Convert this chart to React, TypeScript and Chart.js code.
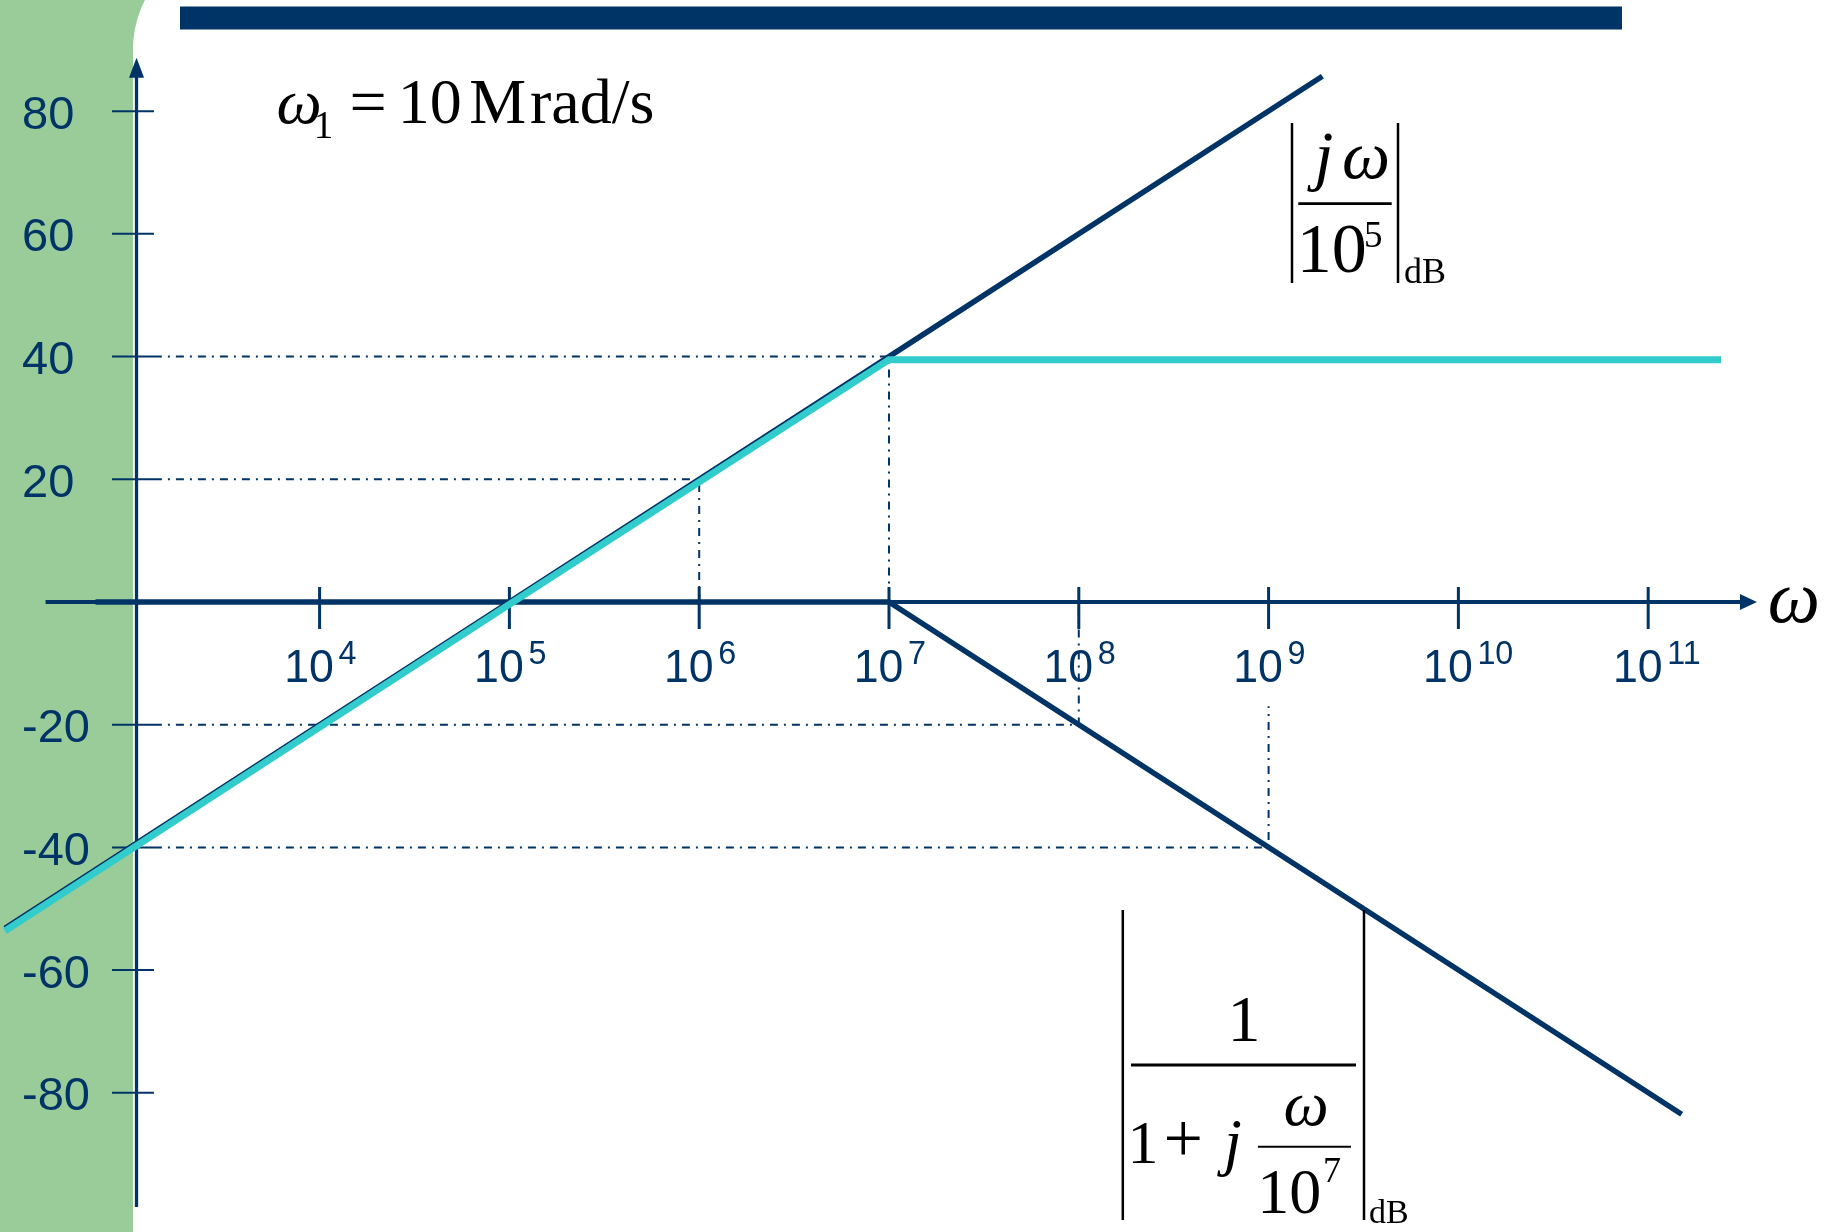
import React, { useEffect, useRef } from "react";
import { Chart, registerables } from "chart.js";

Chart.register(...registerables);

const NAVY = "#003366";
const CYAN = "#33CCCC";
const GREEN = "#99CC99";
const SANS = "'Liberation Sans', Arial, sans-serif";
const SERIF = "'Liberation Serif', 'Times New Roman', serif";

// Asymptote of |jω/10^5| in dB (ω in rad/s)
const zeroOmega = [2.2e2, 1.0e5, 1.0e7, 1.92e9];
const zeroDb = [-53.2, 0, 40, 85.7];

// Asymptote of |1/(1+jω/10^7)| in dB
const poleOmega = [6.6e2, 1.0e7, 1.5e11];
const poleDb = [0, 0, -83.5];

// Sum of both asymptotes (cyan)
const totalOmega = [2.2e2, 1.0e5, 1.0e7, 2.42e11];
const totalDb = [-53.6, -0.4, 39.5, 39.5];

// Dash-dot reading guides
const guide40Omega = [1.34e3, 1.0e7, 1.0e7];
const guide40Db = [40, 40, 0];
const guide20Omega = [1.34e3, 1.0e6, 1.0e6];
const guide20Db = [20, 20, 0];
const guideM20Omega = [1.34e3, 1.0e8, 1.0e8];
const guideM20Db = [-20, -20, 0];
const guideM40Omega = [1.34e3, 1.0e9, 1.0e9];
const guideM40Db = [-40, -40, -17];

// Axis ticks
const yTickValues = [80, 60, 40, 20, -20, -40, -60, -80];
const yTickLabels = ["80", "60", "40", "20", "-20", "-40", "-60", "-80"];
const xTickValues = [1e4, 1e5, 1e6, 1e7, 1e8, 1e9, 1e10, 1e11];
const xTickExponents = ["4", "5", "6", "7", "8", "9", "10", "11"];

// Axis extents (in data units)
const X_MIN = 207.1;
const X_MAX = 8.646e11;
const Y_MIN = -102.69;
const Y_MAX = 98.12;
const X_AXIS_FROM = 3.6e2;
const X_AXIS_TIP = 3.74e11;
const Y_AXIS_AT = 1.085e3;
const Y_AXIS_FROM = -98.6;
const Y_AXIS_TIP = 88.7;

const pts = (xs: number[], ys: number[]) => xs.map((x, i) => ({ x, y: ys[i] }));

function txt(
  ctx: CanvasRenderingContext2D,
  s: string,
  x: number,
  y: number,
  font: string,
  align: CanvasTextAlign = "left",
  sy = 1,
  color = "#000",
  sx = 1
) {
  ctx.save();
  ctx.font = font;
  ctx.fillStyle = color;
  ctx.textAlign = align;
  ctx.textBaseline = "alphabetic";
  ctx.translate(x, y);
  ctx.scale(sx, sy);
  ctx.fillText(s, 0, 0);
  ctx.restore();
}

function seg(ctx: CanvasRenderingContext2D, x1: number, y1: number, x2: number, y2: number, w: number, color = "#000") {
  ctx.save();
  ctx.strokeStyle = color;
  ctx.lineWidth = w;
  ctx.lineCap = "butt";
  ctx.beginPath();
  ctx.moveTo(x1, y1);
  ctx.lineTo(x2, y2);
  ctx.stroke();
  ctx.restore();
}

const backgroundPlugin = {
  id: "slideBackground",
  beforeDraw(chart: any) {
    const { ctx, width, height } = chart;
    ctx.save();
    ctx.fillStyle = "#ffffff";
    ctx.fillRect(0, 0, width, height);
    ctx.fillStyle = GREEN;
    ctx.fillRect(0, 0, 240, height);
    ctx.fillStyle = "#ffffff";
    ctx.beginPath();
    (ctx as any).roundRect(133, -57, width, height + 200, 106);
    ctx.fill();
    ctx.fillStyle = NAVY;
    ctx.fillRect(180, 6.5, 1442, 23);
    ctx.restore();
  },
};

const axesPlugin = {
  id: "bodeAxes",
  beforeDatasetsDraw(chart: any) {
    const ctx: CanvasRenderingContext2D = chart.ctx;
    const xs = chart.scales.x;
    const ys = chart.scales.y;
    const y0 = ys.getPixelForValue(0);
    const xa = xs.getPixelForValue(X_AXIS_FROM);
    const xt = xs.getPixelForValue(X_AXIS_TIP);
    const xp = xs.getPixelForValue(Y_AXIS_AT);
    const yb = ys.getPixelForValue(Y_AXIS_FROM);
    const yt = ys.getPixelForValue(Y_AXIS_TIP);

    // x axis
    seg(ctx, xa, y0, xt - 15, y0, 4, NAVY);
    ctx.save();
    ctx.fillStyle = NAVY;
    ctx.beginPath();
    ctx.moveTo(xt, y0);
    ctx.lineTo(xt - 17, y0 - 8);
    ctx.lineTo(xt - 17, y0 + 8);
    ctx.closePath();
    ctx.fill();
    ctx.restore();

    // y axis
    seg(ctx, xp, yb, xp, yt + 18, 3.3, NAVY);
    ctx.save();
    ctx.fillStyle = NAVY;
    ctx.beginPath();
    ctx.moveTo(xp, yt);
    ctx.lineTo(xp - 7.5, yt + 20);
    ctx.lineTo(xp + 7.5, yt + 20);
    ctx.closePath();
    ctx.fill();
    ctx.restore();

    // y ticks and labels
    yTickValues.forEach((v, i) => {
      const py = ys.getPixelForValue(v);
      seg(ctx, xp - 24.5, py, xp + 17.5, py, 2, NAVY);
      txt(ctx, yTickLabels[i], 22, py + 17.5, `47px ${SANS}`, "left", 1, NAVY);
    });

    // x ticks and labels
    xTickValues.forEach((v, i) => {
      const px = xs.getPixelForValue(v);
      seg(ctx, px, y0 - 15, px, y0 + 27, 3, NAVY);
      txt(ctx, "10", px - 35.3, y0 + 80.5, `47px ${SANS}`, "left", 1, NAVY, 0.95);
      txt(ctx, xTickExponents[i], px + 19, y0 + 62, `34px ${SANS}`, "left", 1, NAVY, 0.95);
    });
  },
};

const annotationPlugin = {
  id: "formulas",
  afterDatasetsDraw(chart: any) {
    const ctx: CanvasRenderingContext2D = chart.ctx;
    const xs = chart.scales.x;
    const ys = chart.scales.y;
    const y0 = ys.getPixelForValue(0);
    const xt = xs.getPixelForValue(X_AXIS_TIP);

    // ω axis label
    txt(ctx, "ω", xt + 37, y0 + 20, `italic 74px ${SERIF}`, "center");

    // ω1 = 10 Mrad/s
    txt(ctx, "ω", 299, 123.3, `italic 64px ${SERIF}`, "center");
    txt(ctx, "1", 323.5, 138.3, `39px ${SERIF}`, "center");
    txt(ctx, "=", 368, 123.5, `66px ${SERIF}`, "center");
    txt(ctx, "10", 429.7, 123.3, `64px ${SERIF}`, "center");
    txt(ctx, "M", 497.8, 123.3, `64px ${SERIF}`, "center");
    txt(ctx, "rad/s", 530, 123.3, `64px ${SERIF}`, "left");

    // |jω / 10^5|dB
    seg(ctx, 1292, 123, 1292, 283, 2.5);
    seg(ctx, 1398, 123, 1398, 283, 2.5);
    seg(ctx, 1298.3, 203.7, 1391.7, 203.7, 2.7);
    txt(ctx, "j", 1324, 178.3, `italic 68px ${SERIF}`, "center");
    txt(ctx, "ω", 1366, 178.3, `italic 68px ${SERIF}`, "center");
    txt(ctx, "10", 1331.7, 271.7, `70px ${SERIF}`, "center");
    txt(ctx, "5", 1373.3, 246.7, `37px ${SERIF}`, "center");
    txt(ctx, "dB", 1404, 282.5, `36px ${SERIF}`, "left");

    // |1 / (1 + jω/10^7)|dB
    seg(ctx, 1122.8, 910, 1122.8, 1220, 2.5);
    seg(ctx, 1364, 910, 1364, 1220, 2.5);
    seg(ctx, 1131, 1065, 1356, 1065, 2.8);
    txt(ctx, "1", 1244, 1041, `66px ${SERIF}`, "center");
    txt(ctx, "1", 1143, 1163, `62px ${SERIF}`, "center");
    txt(ctx, "+", 1183.3, 1162, `70px ${SERIF}`, "center");
    txt(ctx, "j", 1233, 1163, `italic 64px ${SERIF}`, "center");
    seg(ctx, 1258, 1146.7, 1351, 1146.7, 2);
    txt(ctx, "ω", 1306, 1125, `italic 64px ${SERIF}`, "center");
    txt(ctx, "10", 1289.3, 1213, `64px ${SERIF}`, "center");
    txt(ctx, "7", 1332, 1182, `36px ${SERIF}`, "center");
    txt(ctx, "dB", 1369, 1223, `34px ${SERIF}`, "left");
  },
};

const guideStyle = {
  borderColor: NAVY,
  borderWidth: 2,
  borderDash: [8, 6, 2, 6],
  order: 3,
};

export default function App() {
  const ref = useRef<HTMLCanvasElement>(null);

  useEffect(() => {
    document.body.style.margin = "0";
    document.body.style.overflow = "hidden";
    const canvas = ref.current;
    if (!canvas) return;
    const chart = new Chart(canvas, {
      type: "line",
      data: {
        datasets: [
          { label: "total", data: pts(totalOmega, totalDb), borderColor: CYAN, borderWidth: 7, order: 0 },
          { label: "zero", data: pts(zeroOmega, zeroDb), borderColor: NAVY, borderWidth: 5.5, order: 1 },
          { label: "pole", data: pts(poleOmega, poleDb), borderColor: NAVY, borderWidth: 5.5, order: 2 },
          { label: "g40", data: pts(guide40Omega, guide40Db), ...guideStyle },
          { label: "g20", data: pts(guide20Omega, guide20Db), ...guideStyle },
          { label: "gm20", data: pts(guideM20Omega, guideM20Db), ...guideStyle },
          { label: "gm40", data: pts(guideM40Omega, guideM40Db), ...guideStyle },
        ] as any,
      },
      options: {
        responsive: false,
        animation: false,
        devicePixelRatio: 1,
        events: [],
        layout: { padding: 0 },
        elements: {
          point: { radius: 0, hoverRadius: 0 },
          line: { tension: 0, fill: false, borderCapStyle: "butt", borderJoinStyle: "miter" },
        },
        plugins: { legend: { display: false }, tooltip: { enabled: false } },
        scales: {
          x: { type: "logarithmic", min: X_MIN, max: X_MAX, display: false },
          y: { type: "linear", min: Y_MIN, max: Y_MAX, display: false },
        },
      },
      plugins: [backgroundPlugin, axesPlugin, annotationPlugin],
    });
    return () => chart.destroy();
  }, []);

  return (
    <canvas
      ref={ref}
      width={1826}
      height={1232}
      style={{ display: "block", width: 1826, height: 1232 }}
    />
  );
}
